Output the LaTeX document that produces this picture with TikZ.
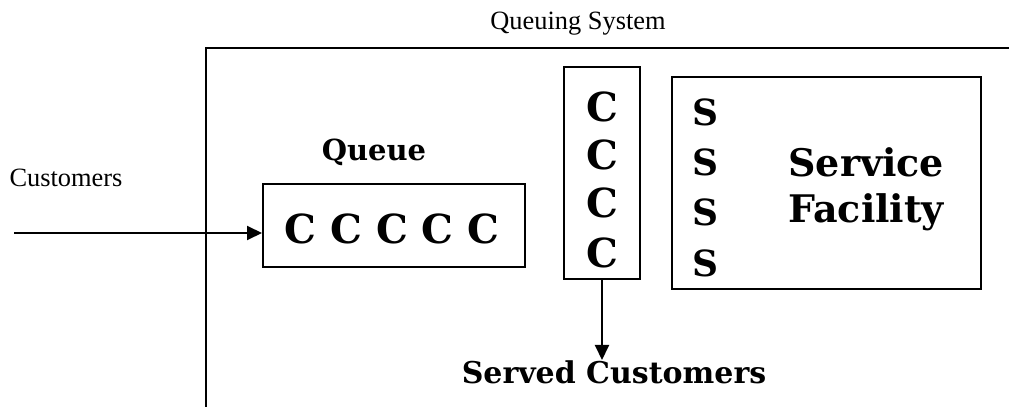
\documentclass[tikz,border=0pt]{standalone}
\usepackage{fontspec}
\setmainfont{Liberation Serif}
\newfontfamily\heavyserif{DejaVu Serif}
\usepackage{tikz}
\usetikzlibrary{arrows.meta,positioning}

\begin{document}
\begin{tikzpicture}[x=0.5pt, y=-0.5pt,
    plain/.style={font=\fontsize{13.2pt}{15pt}\selectfont, inner sep=0pt},
    heavy/.style={font=\heavyserif\bfseries\fontsize{#1}{#1}\selectfont, inner sep=0pt},
    heavy/.default=19pt,
    boxed/.style={draw, line width=1pt, inner sep=0pt},
    flow/.style={-{Triangle[length=7.5pt,width=7pt]}, line width=1pt}
]
    \useasboundingbox (0,0) rectangle (1009,407);

    % open system frame
    \coordinate (sysbl) at (206,407);
    \coordinate (systl) at (206,48);
    \coordinate (systr) at (1009,48);
    \draw[line width=1pt] (sysbl) -- (systl) -- (systr);
    \node[plain] (systitle) at (578,24) {Queuing System};

    \node[plain] (arrivals) at (66,178) {Customers};
    \coordinate (source) at (14,233);

    \node[boxed, minimum width=131pt, minimum height=41.5pt] (queue) at (394,225.5) {};
    \node[heavy=20pt] (waiting) at (392,229) {C C C C C};
    \node[heavy=14.5pt] (qlabel) at (374,152) {Queue};

    \node[boxed, minimum width=38pt, minimum height=106pt] (inservice) at (602,173) {};
    \foreach \y in {107,155,203,253}
        \node[heavy=20pt] at (602,\y) {C};

    \node[boxed, minimum width=154.5pt, minimum height=106pt] (facility) at (826.5,183) {};
    \foreach \y in {112,162,212,263}
        \node[heavy=18pt] at (705,\y) {S};
    \node[heavy, anchor=west] (srvword) at (788,162) {Service};
    \node[heavy, anchor=west] (facword) at (788,212) {Facility};

    \node[heavy=15pt] (served) at (614,372) {Served Customers};

    \draw[flow] (source) -- (source -| queue.west);
    \draw[flow] (inservice.south) -- (inservice.south |- served.north);
\end{tikzpicture}
\end{document}
